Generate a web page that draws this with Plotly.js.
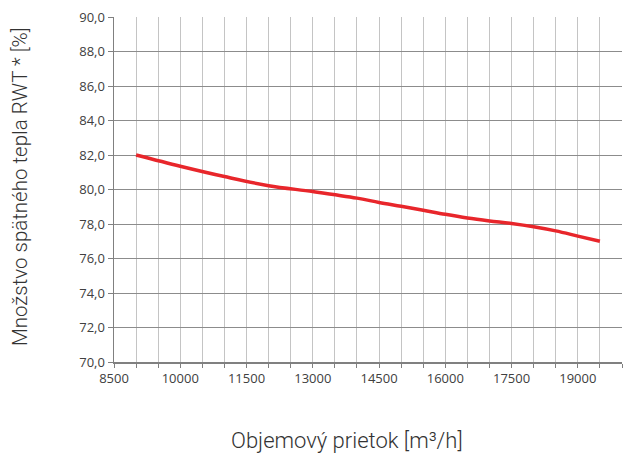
<!DOCTYPE html>
<html><head><meta charset="utf-8">
<script src="https://cdn.plot.ly/plotly-3.0.1.min.js"></script>
<style>html,body{margin:0;padding:0;background:#fff}#c{width:623px;height:453px}</style>
</head><body><div id="c"></div>
<script>
const flowRate = [9000, 10000, 11000, 12000, 13000, 14000, 14500, 15000, 15500, 16000, 16500, 17000, 17500, 18000, 18500, 19000, 19500];
const heatRecovery = [82.0, 81.35, 80.75, 80.22, 79.88, 79.5, 79.25, 79.03, 78.8, 78.56, 78.35, 78.18, 78.03, 77.84, 77.6, 77.3, 77.0];
const xTickVals = [8500, 10000, 11500, 13000, 14500, 16000, 17500, 19000];
const yTickVals = [70, 72, 74, 76, 78, 80, 82, 84, 86, 88, 90];
const yTickText = yTickVals.map(v => v.toFixed(1).replace('.', ','));
const xTitle = 'Objemový prietok [m³/h]';
const yTitle = 'Množstvo spätného tepla RWT * [%]';

Plotly.newPlot('c', [{
  x: flowRate, y: heatRecovery, type: 'scatter', mode: 'lines',
  line: {color: '#e8262b', width: 3.5, shape: 'spline', smoothing: 1.0},
  hoverinfo: 'skip'
}], {
  width: 623, height: 453,
  margin: {l: 114, r: 1, t: 17, b: 91},
  paper_bgcolor: '#fff', plot_bgcolor: '#fff',
  showlegend: false,
  font: {family: 'Open Sans, sans-serif', color: '#404040', size: 12},
  xaxis: {
    range: [8500, 20000], tickmode: 'array', tickvals: xTickVals,
    ticktext: xTickVals.map(String),
    showgrid: true, gridcolor: '#c4c4c4', gridwidth: 1,
    minor: {dtick: 500, tick0: 8500, showgrid: true, gridcolor: '#c4c4c4', gridwidth: 1, ticks: 'outside', ticklen: 4, tickcolor: '#808080'},
    ticks: 'outside', ticklen: 4, tickcolor: '#808080',
    showline: true, linecolor: '#808080', linewidth: 1.5, zeroline: false,
    tickfont: {family: 'Open Sans, sans-serif', size: 13, color: '#404040'}
  },
  yaxis: {
    range: [70, 90], tickmode: 'array', tickvals: yTickVals, ticktext: yTickText,
    showgrid: true, gridcolor: '#8c8c8c', gridwidth: 1,
    ticks: 'outside', ticklen: 5, tickcolor: '#808080',
    showline: true, linecolor: '#808080', linewidth: 1.5, zeroline: false,
    tickfont: {family: 'Open Sans, sans-serif', size: 13, color: '#404040'}
  },
  annotations: [
    {text: xTitle, xref: 'paper', yref: 'paper', x: (347 - 114) / 508, y: -0.227,
     xanchor: 'center', yanchor: 'middle', showarrow: false,
     font: {family: 'Roboto, sans-serif', size: 22, color: '#333', weight: 300}},
    {text: yTitle, xref: 'paper', yref: 'paper', x: (20 - 114) / 508, y: (362 - 187) / 345,
     xanchor: 'center', yanchor: 'middle', showarrow: false, textangle: -90,
     font: {family: 'Roboto, sans-serif', size: 20.5, color: '#333', weight: 300}}
  ]
}, {staticPlot: true});
</script></body></html>
